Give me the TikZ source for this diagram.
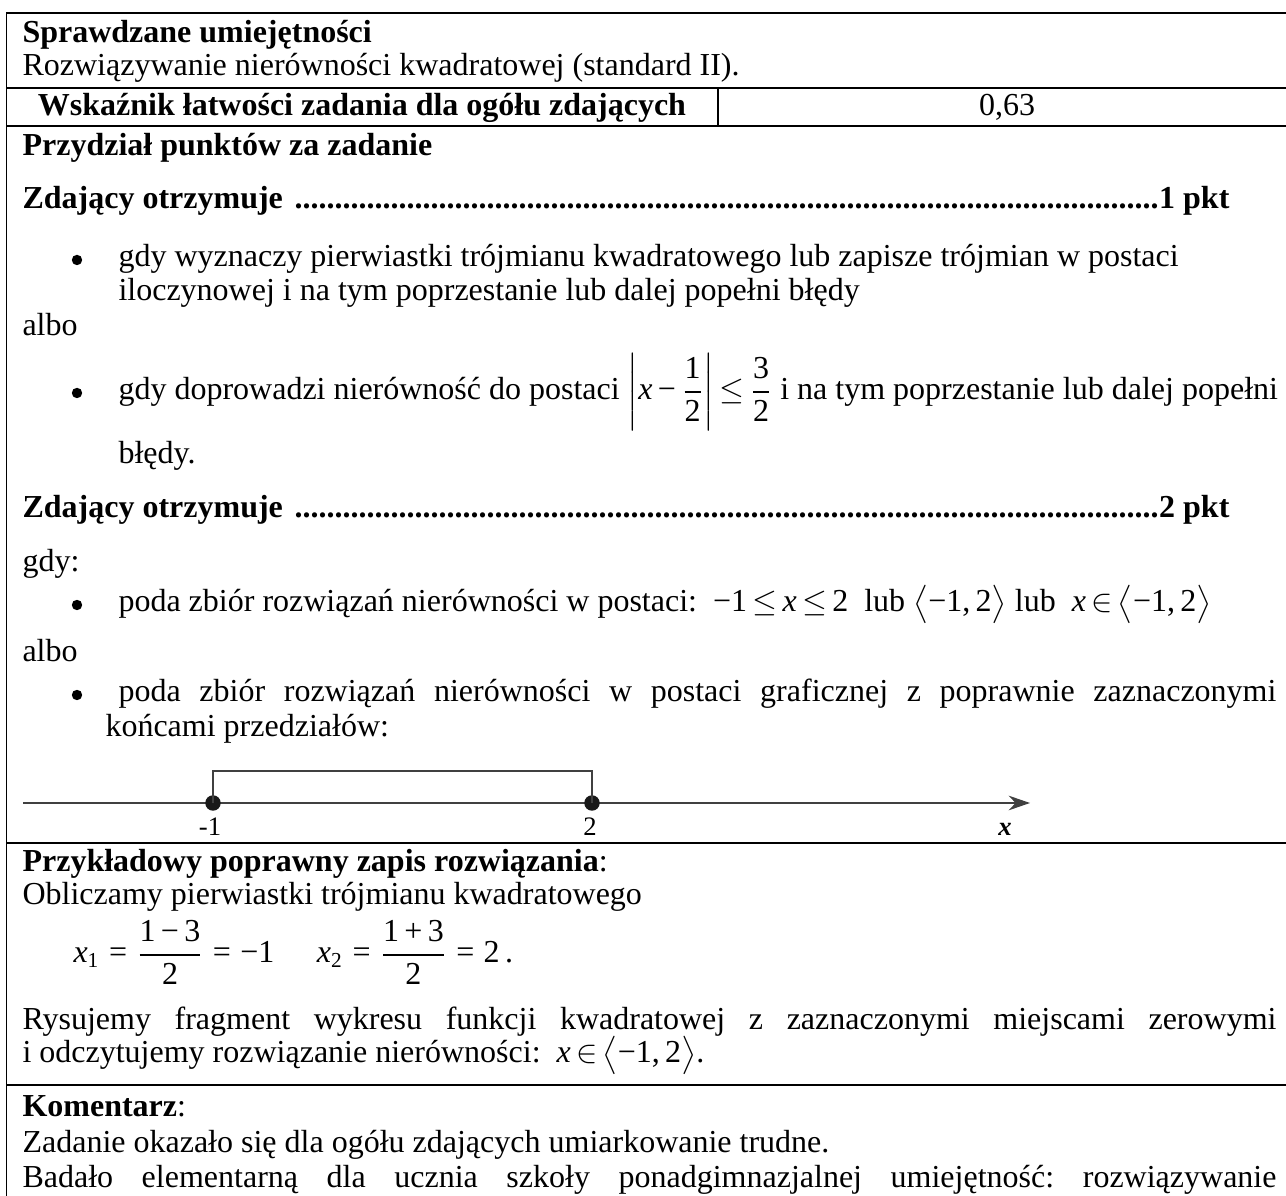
\documentclass[tikz,border=0pt]{standalone}
\usepackage{amsmath}
\usepackage{fontspec}
\setmainfont{Liberation Serif}
\usetikzlibrary{arrows.meta}
\newcommand{\vx}{\textit{x}}
\newcommand{\sep}{\hspace{3.5pt}}
\newcommand{\mn}{\text{−}}
\newcommand{\tle}{$\mathord{\le}$}
\frenchspacing
\begin{document}
\begin{tikzpicture}[x=0.375pt,y=-0.375pt,
  txt/.style={anchor=base west,inner sep=0pt,font=\fontsize{12}{14}\selectfont},
  bld/.style={txt,font=\fontsize{12}{14}\selectfont\bfseries},
  ctr/.style={anchor=base,inner sep=0pt,font=\fontsize{12}{14}\selectfont},
  lbl/.style={anchor=base,inner sep=0pt,font=\fontsize{10}{12}\selectfont},
  rulethin/.style={line width=0.65pt,black},
  rulethick/.style={line width=1.0pt,black},
  bul/.style={circle,fill=black,inner sep=0pt,minimum size=3.9pt},
  pt/.style={circle,fill=black!90,inner sep=0pt,minimum size=5.8pt},
  axisline/.style={line width=0.45pt,black!75},
]
\useasboundingbox (0,0) rectangle (1286,1196);
\clip (0,0) rectangle (1286,1196);

% frame
\draw[rulethin] (6.5,1200) -- (6.5,13) -- (1300,13);
\draw[rulethin] (6.5,88) -- (1300,88);
\draw[rulethin] (6.5,126) -- (1300,126);
\draw[rulethin] (718,88) -- (718,126);
\draw[rulethick] (6.5,843) -- (1300,843);
\draw[rulethick] (6.5,1085) -- (1300,1085);

% header
\node[bld] (h1) at (22,43) {Sprawdzane umiejętności};
\node[txt] (h2) at (22,76) {Rozwiązywanie nierówności kwadratowej (standard II).};
\node[ctr,font=\fontsize{12}{14}\selectfont\bfseries] (w1) at (362,116) {Wskaźnik łatwości zadania dla ogółu zdających};
\node[ctr] (w2) at (1007,116) {0,63};
\node[bld] (p0) at (22,156) {Przydział punktów za zadanie};

% 1 pkt
\node[bld] (z1) at (22,209) {\hbox to 452.6pt{Zdający otrzymuje \leaders\hbox{.}\hfill1 pkt}};
\node[bul] (b1) at (77,260) {};
\node[txt] (t1a) at (118,267) {gdy wyznaczy pierwiastki trójmianu kwadratowego lub zapisze trójmian w postaci};
\node[txt] (t1b) at (118,301) {iloczynowej i na tym poprzestanie lub dalej popełni błędy};
\node[txt] (a1) at (22,336) {albo};
\node[bul] (b2) at (77,393) {};
\node[txt] (t2a) at (118,400) {gdy doprowadzi nierówność do postaci $\left|\text{\itshape x}\,\mn\,\dfrac{\text{1}}{\text{2}}\right|\mathord{\le}\,\dfrac{\text{3}}{\text{2}}$ i na tym poprzestanie lub dalej popełni};
\node[txt] (t2b) at (118,464) {błędy.};

% 2 pkt
\node[bld] (z2) at (22,518) {\hbox to 452.6pt{Zdający otrzymuje \leaders\hbox{.}\hfill2 pkt}};
\node[txt] (g1) at (22,572) {gdy:};
\node[bul] (b3) at (77,605) {};
\node[txt] (t3) at (118,612) {poda zbiór rozwiązań nierówności w postaci: \ −1\,\tle\,\vx\,\tle\,2 \ lub $\bigl\langle$−1,\,2$\bigr\rangle$ lub \ \vx\,$\in$\,$\bigl\langle$−1,\,2$\bigr\rangle$};
\node[txt] (a2) at (22,662) {albo};
\node[bul] (b4) at (77,695) {};
\node[txt] (t4a) at (118,702) {\makebox[434.2pt][s]{poda zbiór rozwiązań nierówności w postaci graficznej z poprawnie zaznaczonymi}};
\node[txt] (t4b) at (105,737) {końcami przedziałów:};

% number line
\coordinate (axL) at (23,803);
\coordinate (axR) at (1030,803);
\draw[axisline,-{Stealth[length=8pt,width=5.5pt]}] (axL) -- (axR);
\node[pt] (d1) at (213,803) {};
\node[pt] (d2) at (592,803) {};
\draw[axisline] (d1.center) -- (213,771) -- (592,771) -- (d2.center);
\node[lbl] (l1) at (210,836) {-1};
\node[lbl] (l2) at (590,836) {2};
\node[lbl] (lx) at (1005,836) {\textbf{\textit{x}}};

% przykladowy
\node[txt] (pz) at (22,872) {\textbf{Przykładowy poprawny zapis rozwiązania}:};
\node[txt] (ob) at (22,905) {Obliczamy pierwiastki trójmianu kwadratowego};
\node[txt] (fx) at (73,963) {\vx$_{\text{1}}$\sep=\sep$\dfrac{\text{1\,−\,3}}{\text{2}}$\sep=\sep−1\hspace{16pt}\vx$_{\text{2}}$\sep=\sep$\dfrac{\text{1\,+\,3}}{\text{2}}$\sep=\sep2\,.};
\node[txt] (ry) at (22,1030) {\makebox[470.2pt][s]{Rysujemy fragment wykresu funkcji kwadratowej z zaznaczonymi miejscami zerowymi}};
\node[txt] (io) at (22,1063) {i odczytujemy rozwiązanie nierówności: \ \vx\,$\in$\,$\bigl\langle$−1,\,2$\bigr\rangle$.};

% komentarz
\node[txt] (km) at (22,1117) {\textbf{Komentarz}:};
\node[txt] (zd) at (22,1153) {Zadanie okazało się dla ogółu zdających umiarkowanie trudne.};
\node[txt] (bd) at (22,1188) {\makebox[470.2pt][s]{Badało elementarną dla ucznia szkoły ponadgimnazjalnej umiejętność: rozwiązywanie}};
\end{tikzpicture}
\end{document}
